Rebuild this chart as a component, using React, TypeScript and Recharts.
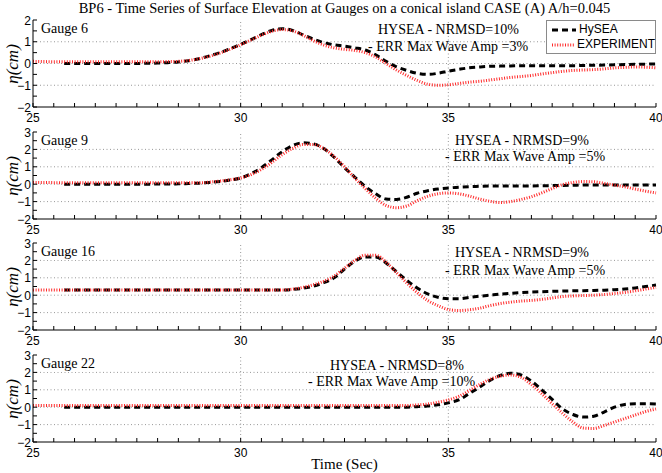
import React from 'react';
import { LineChart, Line, XAxis, YAxis, ReferenceLine, Legend } from 'recharts';

// sample times (s)
const time = [
  25, 25.25, 25.5, 25.75, 26, 26.25, 26.5, 26.75, 27, 27.25, 27.5, 27.75,
  28, 28.25, 28.5, 28.75, 29, 29.25, 29.5, 29.75, 30, 30.25, 30.5, 30.75,
  31, 31.25, 31.5, 31.75, 32, 32.25, 32.5, 32.75, 33, 33.25, 33.5, 33.75,
  34, 34.25, 34.5, 34.75, 35, 35.25, 35.5, 35.75, 36, 36.25, 36.5, 36.75,
  37, 37.25, 37.5, 37.75, 38, 38.25, 38.5, 38.75, 39, 39.25, 39.5, 39.75, 40,
];

// surface elevation (cm)
const g6Hysea = [
  null, null, null, 0, 0, 0, 0, 0, 0, 0, 0, 0.01,
  0.02, 0.04, 0.07, 0.13, 0.22, 0.35, 0.5, 0.68, 0.88, 1.1, 1.33, 1.52,
  1.6, 1.52, 1.32, 1.12, 0.96, 0.86, 0.8, 0.72, 0.62, 0.4, 0.1, -0.15,
  -0.32, -0.45, -0.5, -0.45, -0.35, -0.27, -0.2, -0.16, -0.13, -0.12, -0.11, -0.1,
  -0.1, -0.1, -0.1, -0.1, -0.1, -0.09, -0.08, -0.07, -0.06, -0.05, -0.04, -0.03, -0.02,
];
const g6Exp = [
  0.1, 0.09, 0.08, 0.08, 0.08, 0.08, 0.08, 0.08, 0.08, 0.08, 0.08, 0.08,
  0.08, 0.09, 0.1, 0.14, 0.22, 0.33, 0.48, 0.66, 0.86, 1.08, 1.3, 1.48,
  1.56, 1.5, 1.3, 1.05, 0.85, 0.72, 0.65, 0.6, 0.5, 0.3, 0.0, -0.3,
  -0.55, -0.78, -0.95, -1.0, -0.98, -0.92, -0.86, -0.82, -0.76, -0.7, -0.64, -0.6,
  -0.55, -0.48, -0.42, -0.36, -0.32, -0.3, -0.28, -0.25, -0.2, -0.18, -0.16, -0.17, -0.2,
];
const g9Hysea = [
  null, null, null, 0, 0, 0, 0, 0, 0, 0, 0, 0,
  0.01, 0.01, 0.02, 0.04, 0.06, 0.1, 0.16, 0.24, 0.36, 0.6, 0.95, 1.4,
  1.87, 2.22, 2.38, 2.32, 2.05, 1.55, 0.95, 0.4, -0.13, -0.55, -0.85, -0.88,
  -0.75, -0.52, -0.38, -0.28, -0.22, -0.17, -0.14, -0.12, -0.1, -0.1, -0.1, -0.1,
  -0.1, -0.09, -0.08, -0.07, -0.06, -0.05, -0.05, -0.05, -0.05, -0.05, -0.05, -0.05, -0.05,
];
const g9Exp = [
  0.1, 0.1, 0.09, 0.09, 0.08, 0.08, 0.08, 0.08, 0.08, 0.08, 0.08, 0.08,
  0.08, 0.08, 0.08, 0.08, 0.08, 0.12, 0.18, 0.26, 0.36, 0.55, 0.85, 1.25,
  1.7, 2.05, 2.28, 2.28, 2.05, 1.6, 1.0, 0.35, -0.25, -0.8, -1.22, -1.35,
  -1.25, -0.95, -0.7, -0.55, -0.5, -0.55, -0.68, -0.85, -0.98, -1.05, -1.0, -0.88,
  -0.72, -0.5, -0.25, -0.02, 0.1, 0.15, 0.14, 0.05, -0.05, -0.15, -0.28, -0.4, -0.5,
];
const g16Hysea = [
  null, null, null, 0.3, 0.3, 0.3, 0.3, 0.3, 0.3, 0.3, 0.3, 0.3,
  0.3, 0.3, 0.3, 0.3, 0.3, 0.3, 0.3, 0.3, 0.3, 0.3, 0.3, 0.3,
  0.3, 0.33, 0.4, 0.52, 0.72, 1.0, 1.5, 1.95, 2.2, 2.2, 1.85, 1.35,
  0.85, 0.42, 0.08, -0.12, -0.2, -0.2, -0.13, -0.06, 0.0, 0.06, 0.11, 0.15,
  0.18, 0.2, 0.22, 0.24, 0.25, 0.26, 0.27, 0.29, 0.32, 0.36, 0.42, 0.5, 0.58,
];
const g16Exp = [
  0.3, 0.3, 0.3, 0.3, 0.3, 0.3, 0.3, 0.3, 0.3, 0.3, 0.3, 0.3,
  0.3, 0.3, 0.3, 0.3, 0.3, 0.3, 0.3, 0.3, 0.3, 0.3, 0.3, 0.3,
  0.3, 0.35, 0.45, 0.6, 0.8, 1.1, 1.55, 2.0, 2.3, 2.3, 1.9, 1.3,
  0.7, 0.15, -0.3, -0.6, -0.82, -0.88, -0.84, -0.75, -0.6, -0.48, -0.4, -0.34,
  -0.3, -0.24, -0.16, -0.08, -0.04, -0.02, 0.0, 0.04, 0.1, 0.16, 0.25, 0.35, 0.45,
];
const g22Hysea = [
  null, null, null, 0, 0, 0, 0, 0, 0, 0, 0, 0,
  0, 0, 0, 0, 0, 0, 0, 0, 0, 0, 0, 0,
  0, 0, 0, 0, 0, 0, 0, 0, 0, 0, 0, 0,
  0, 0.03, 0.07, 0.14, 0.25, 0.42, 0.78, 1.15, 1.54, 1.82, 1.95, 1.85,
  1.5, 1.0, 0.45, -0.1, -0.42, -0.57, -0.52, -0.28, 0.0, 0.16, 0.2, 0.2, 0.18,
];
const g22Exp = [
  0.1, 0.1, 0.1, 0.1, 0.1, 0.1, 0.1, 0.1, 0.1, 0.1, 0.1, 0.1,
  0.1, 0.1, 0.1, 0.1, 0.1, 0.1, 0.1, 0.1, 0.1, 0.1, 0.1, 0.1,
  0.1, 0.1, 0.1, 0.1, 0.1, 0.1, 0.1, 0.1, 0.1, 0.1, 0.1, 0.1,
  0.1, 0.13, 0.18, 0.28, 0.42, 0.62, 0.95, 1.3, 1.6, 1.78, 1.85, 1.72,
  1.3, 0.78, 0.2, -0.35, -0.85, -1.2, -1.22, -1.05, -0.85, -0.65, -0.45, -0.25, -0.1,
];

const seriesNames = ['HySEA', 'EXPERIMENT'];
const gaugeNames = ['Gauge 6', 'Gauge 9', 'Gauge 16', 'Gauge 22'];
const nrmsdText = ['HYSEA - NRMSD=10%', 'HYSEA - NRMSD=9%', 'HYSEA - NRMSD=9%', 'HYSEA - NRMSD=8%'];
const errText = ['- ERR Max Wave Amp =3%', '- ERR Max Wave Amp =5%', '- ERR Max Wave Amp =5%', '- ERR Max Wave Amp =10%'];
const hyseaSeries = [g6Hysea, g9Hysea, g16Hysea, g22Hysea];
const expSeries = [g6Exp, g9Exp, g16Exp, g22Exp];

const xLabels = [25, 30, 35, 40];
const xTicks = [25, 25.5, 26, 26.5, 27, 27.5, 28, 28.5, 29, 29.5, 30, 30.5, 31, 31.5, 32, 32.5, 33, 33.5, 34, 34.5, 35, 35.5, 36, 36.5, 37, 37.5, 38, 38.5, 39, 39.5, 40];
const yTicksSmall = [-2, -1.5, -1, -0.5, 0, 0.5, 1, 1.5, 2];
const yTicksBig = [-2, -1.5, -1, -0.5, 0, 0.5, 1, 1.5, 2, 2.5, 3];
const yLabelsSmall = [-2, -1, 0, 1, 2];
const yLabelsBig = [-2, -1, 0, 1, 2, 3];

const W = 662;
const PLOT_H = 87;
const panelTops = [20, 132, 243, 355];
const noteBoxes = [
  { left: 378, top: 22, left2: 368, top2: 39 },
  { left: 455, top: 133, left2: 445, top2: 149 },
  { left: 455, top: 245, left2: 445, top2: 263 },
  { left: 330, top: 358, left2: 308, top2: 374 },
];

const HYSEA_DASH = '6 4';
const EXP_DASH = '1 1.6';
const EXP_RED = '#ff2a2a';
const GRID = '#8c8c8c';
const SERIF = '"Liberation Serif", "Times New Roman", serif';
const SANS = '"Liberation Sans", Arial, sans-serif';
const fmt = (v: number) => (v < 0 ? '\u2212' + Math.abs(v) : String(v));

const BottomTick = (p: any) => {
  const v = p.payload.value;
  return (
    <g>
      <line x1={p.x} y1={p.y} x2={p.x} y2={p.y - 4} stroke="#000" strokeWidth={1} />
      {xLabels.includes(v) && (
        <text x={p.x} y={p.y + 15} textAnchor="middle" fontSize={12} fontFamily={SANS} fill="#000">{v}</text>
      )}
    </g>
  );
};
const TopTick = (p: any) => (
  <line x1={p.x} y1={p.y} x2={p.x} y2={p.y + 4} stroke="#000" strokeWidth={1} />
);
const makeLeftTick = (labels: number[]) => (p: any) => {
  const v = p.payload.value;
  return (
    <g>
      <line x1={p.x} y1={p.y} x2={p.x + 4} y2={p.y} stroke="#000" strokeWidth={1} />
      {labels.includes(v) && (
        <text x={p.x - 2} y={p.y + 4.5} textAnchor="end" fontSize={12} fontFamily={SANS} fill="#000">{fmt(v)}</text>
      )}
    </g>
  );
};
const RightTick = (p: any) => (
  <line x1={p.x} y1={p.y} x2={p.x - 4} y2={p.y} stroke="#000" strokeWidth={1} />
);

const LegendBox = (props: any) => {
  const items = [...(props.payload || [])].sort(
    (a: any, b: any) => seriesNames.indexOf(a.value) - seriesNames.indexOf(b.value),
  );
  return (
    <div style={{ width: 108, height: 30, border: '1px solid #8a8a8a', background: '#fff', fontFamily: SANS, fontSize: 12, lineHeight: '15px', padding: '1px 0' }}>
      {items.map((e: any) => (
        <div key={e.value} style={{ display: 'flex', alignItems: 'center', height: 15 }}>
          <svg width={30} height={15}>
            <line x1={5} y1={8} x2={29} y2={8} stroke={e.color} strokeWidth={3}
              strokeDasharray={e.value === seriesNames[0] ? HYSEA_DASH : EXP_DASH} />
          </svg>
          <span style={{ marginLeft: 2 }}>{e.value}</span>
        </div>
      ))}
    </div>
  );
};

function Panel({ idx }: { idx: number }) {
  const data = time.map((t, i) => ({ t, hysea: hyseaSeries[idx][i], exp: expSeries[idx][i] }));
  const big = idx > 0;
  const yDomain = big ? [-2, 3] : [-2, 2];
  const yTicks = big ? yTicksBig : yTicksSmall;
  const yLabels = big ? yLabelsBig : yLabelsSmall;
  const gridY = yLabels.filter((v) => v > yDomain[0] && v < yDomain[1]);
  const gridX = xLabels.filter((v) => v > 25 && v < 40);
  return (
    <div style={{ position: 'absolute', left: 0, top: panelTops[idx] - 10 }}>
      <LineChart width={W} height={PLOT_H + 32} data={data} margin={{ top: 10, right: 6, bottom: 0, left: 0 }}>
        <XAxis dataKey="t" type="number" domain={[25, 40]} ticks={xTicks} interval={0}
          tickSize={0} tickMargin={0} height={22} axisLine={{ stroke: '#000' }} tick={<BottomTick />} />
        <XAxis xAxisId="top" orientation="top" dataKey="t" type="number" domain={[25, 40]} ticks={xTicks}
          interval={0} tickSize={0} tickMargin={0} height={0} axisLine={{ stroke: '#000' }} tick={<TopTick />} />
        <YAxis type="number" domain={yDomain} ticks={yTicks} interval={0} width={33}
          tickSize={0} tickMargin={0} axisLine={{ stroke: '#000' }} tick={makeLeftTick(yLabels)} />
        <YAxis yAxisId="right" orientation="right" type="number" domain={yDomain} ticks={yTicks}
          interval={0} width={0} tickSize={0} tickMargin={0} allowDataOverflow
          axisLine={{ stroke: '#000' }} tick={<RightTick />} />
        {gridX.map((v) => (
          <ReferenceLine key={'x' + v} x={v} stroke={GRID} strokeDasharray="1 2.5" strokeWidth={0.9} />
        ))}
        {gridY.map((v) => (
          <ReferenceLine key={'y' + v} y={v} stroke={GRID} strokeDasharray="1 2.5" strokeWidth={0.9} />
        ))}
        <Line type="monotone" dataKey="hysea" name={seriesNames[0]} stroke="#000" strokeWidth={3}
          strokeDasharray={HYSEA_DASH} dot={false} isAnimationActive={false} />
        <Line type="monotone" dataKey="exp" name={seriesNames[1]} stroke={EXP_RED} strokeWidth={3}
          strokeDasharray={EXP_DASH} dot={false} isAnimationActive={false} />
        {idx === 0 && (
          <Legend layout="vertical" align="center" verticalAlign="middle" content={<LegendBox />}
            wrapperStyle={{ left: 546, top: 10, width: 110, height: 32 }} />
        )}
      </LineChart>
    </div>
  );
}

export default function App() {
  return (
    <div style={{ position: 'absolute', left: 0, top: 0, width: W, height: 473, background: '#fff', overflow: 'hidden' }}>
      <div style={{ position: 'absolute', left: 33, width: 623, top: 0, textAlign: 'center', fontFamily: SERIF, fontSize: 14.5, lineHeight: '16px' }}>
        BP6 - Time Series of Surface Elevation at Gauges on a conical island CASE (A) A/h=0.045
      </div>
      {panelTops.map((top, i) => (
        <React.Fragment key={i}>
          <Panel idx={i} />
          <div style={{ position: 'absolute', left: 13, top: top + PLOT_H / 2, transform: 'translate(-50%, -50%) rotate(-90deg)', fontFamily: SERIF, fontStyle: 'italic', fontSize: 17, whiteSpace: 'nowrap' }}>
            η(cm)
          </div>
          <div style={{ position: 'absolute', left: 41, top: top + 1, fontFamily: SERIF, fontSize: 14, lineHeight: '16px', background: '#fff' }}>
            {gaugeNames[i]}
          </div>
          <div style={{ position: 'absolute', left: noteBoxes[i].left, top: noteBoxes[i].top, fontFamily: SERIF, fontSize: 14, lineHeight: '16px', whiteSpace: 'nowrap' }}>
            {nrmsdText[i]}
          </div>
          <div style={{ position: 'absolute', left: noteBoxes[i].left2, top: noteBoxes[i].top2, fontFamily: SERIF, fontSize: 14, lineHeight: '16px', whiteSpace: 'nowrap' }}>
            {errText[i]}
          </div>
        </React.Fragment>
      ))}
      <div style={{ position: 'absolute', left: 33, width: 623, top: 456, textAlign: 'center', fontFamily: SERIF, fontSize: 15, lineHeight: '17px' }}>
        Time (Sec)
      </div>
    </div>
  );
}
